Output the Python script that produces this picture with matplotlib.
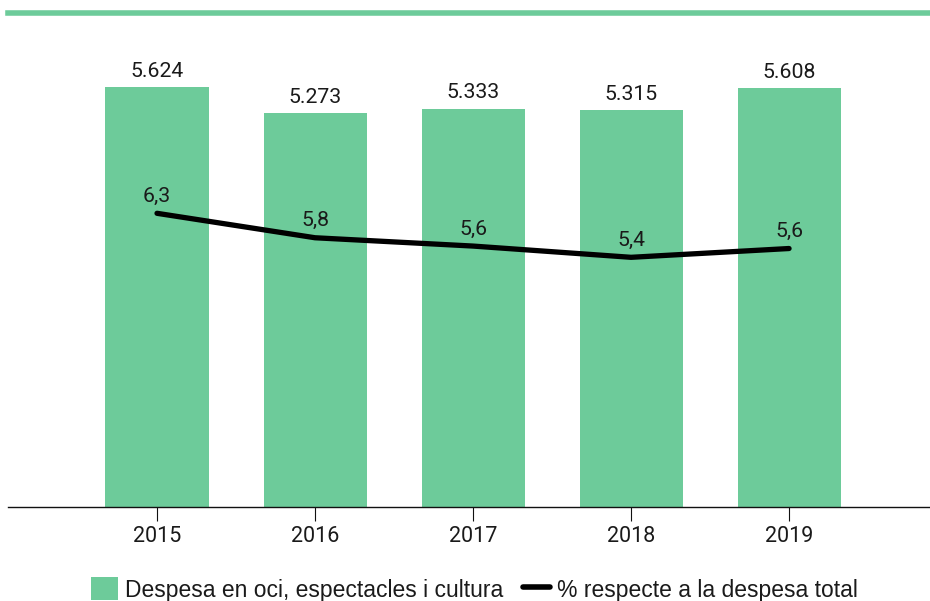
import matplotlib
matplotlib.use("Agg")
import matplotlib.pyplot as plt
from matplotlib.lines import Line2D
from matplotlib.patches import Patch
from matplotlib.font_manager import FontProperties

plt.rcParams['font.family'] = ['Roboto', 'DejaVu Sans']

years = ['2015', '2016', '2017', '2018', '2019']
spending = [5624, 5273, 5333, 5315, 5608]
share = [6.3, 5.8, 5.63, 5.4, 5.58]
bar_label = 'Despesa en oci, espectacles i cultura'
line_label = '% respecte a la despesa total'

GREEN = '#6dcb9a'
TEXT = '#1a1a1a'

fig = plt.figure(figsize=(9.3, 6.01), dpi=100)
W, H = 930, 601
ax = fig.add_axes([8 / W, 1 - 507 / H, 922 / W, (507 - 40) / H])
x = list(range(len(years)))
ax.bar(x, spending, width=0.652, color=GREEN, zorder=2)
ax.set_xlim(-0.943, 4.892)
ax.set_ylim(0, 6253)
for xi, v in zip(x, spending):
    ax.annotate(f"{v:,}".replace(',', '.'), (xi, v), xytext=(0, 4.5),
                textcoords='offset points', ha='center', va='bottom',
                fontsize=15.3, color=TEXT)
for s in ['top', 'right', 'left']:
    ax.spines[s].set_visible(False)
ax.spines['bottom'].set_color('#111111')
ax.spines['bottom'].set_linewidth(1.0)
ax.set_yticks([])
ax.set_xticks(x)
ax.set_xticklabels(years, fontsize=15.5, color=TEXT)
ax.tick_params(axis='x', length=10, width=0.8, color='#111111', pad=4)

ax2 = ax.twinx()
ax2.set_ylim(0.294, 9.844)
ax2.plot(x, share, color='black', lw=3.8, solid_capstyle='round',
         solid_joinstyle='round', zorder=3)
for xi, v in zip(x, share):
    ax2.annotate(f"{v:.1f}".replace('.', ','), (xi, v), xytext=(0, 5.5),
                 textcoords='offset points', ha='center', va='bottom',
                 fontsize=15.3, color=TEXT)
ax2.set_yticks([])
for s in ax2.spines.values():
    s.set_visible(False)

# top green rule
fig.add_artist(Line2D([8 / W, 1], [1 - 13 / H, 1 - 13 / H], color=GREEN,
                      lw=4, transform=fig.transFigure))

handles = [Patch(facecolor=GREEN, edgecolor='none'),
           Line2D([0], [0], color='black', lw=4, solid_capstyle='round')]
fig.legend(handles, [bar_label, line_label], loc='lower center',
           bbox_to_anchor=(0.51, -0.02), ncol=2, frameon=False,
           prop=FontProperties(family='Liberation Sans', size=16.5),
           handlelength=1.2, handleheight=1.15,
           handletextpad=0.3, columnspacing=0.85, labelcolor=TEXT,
           borderpad=0.0)

fig.savefig('out.png', dpi=100)
